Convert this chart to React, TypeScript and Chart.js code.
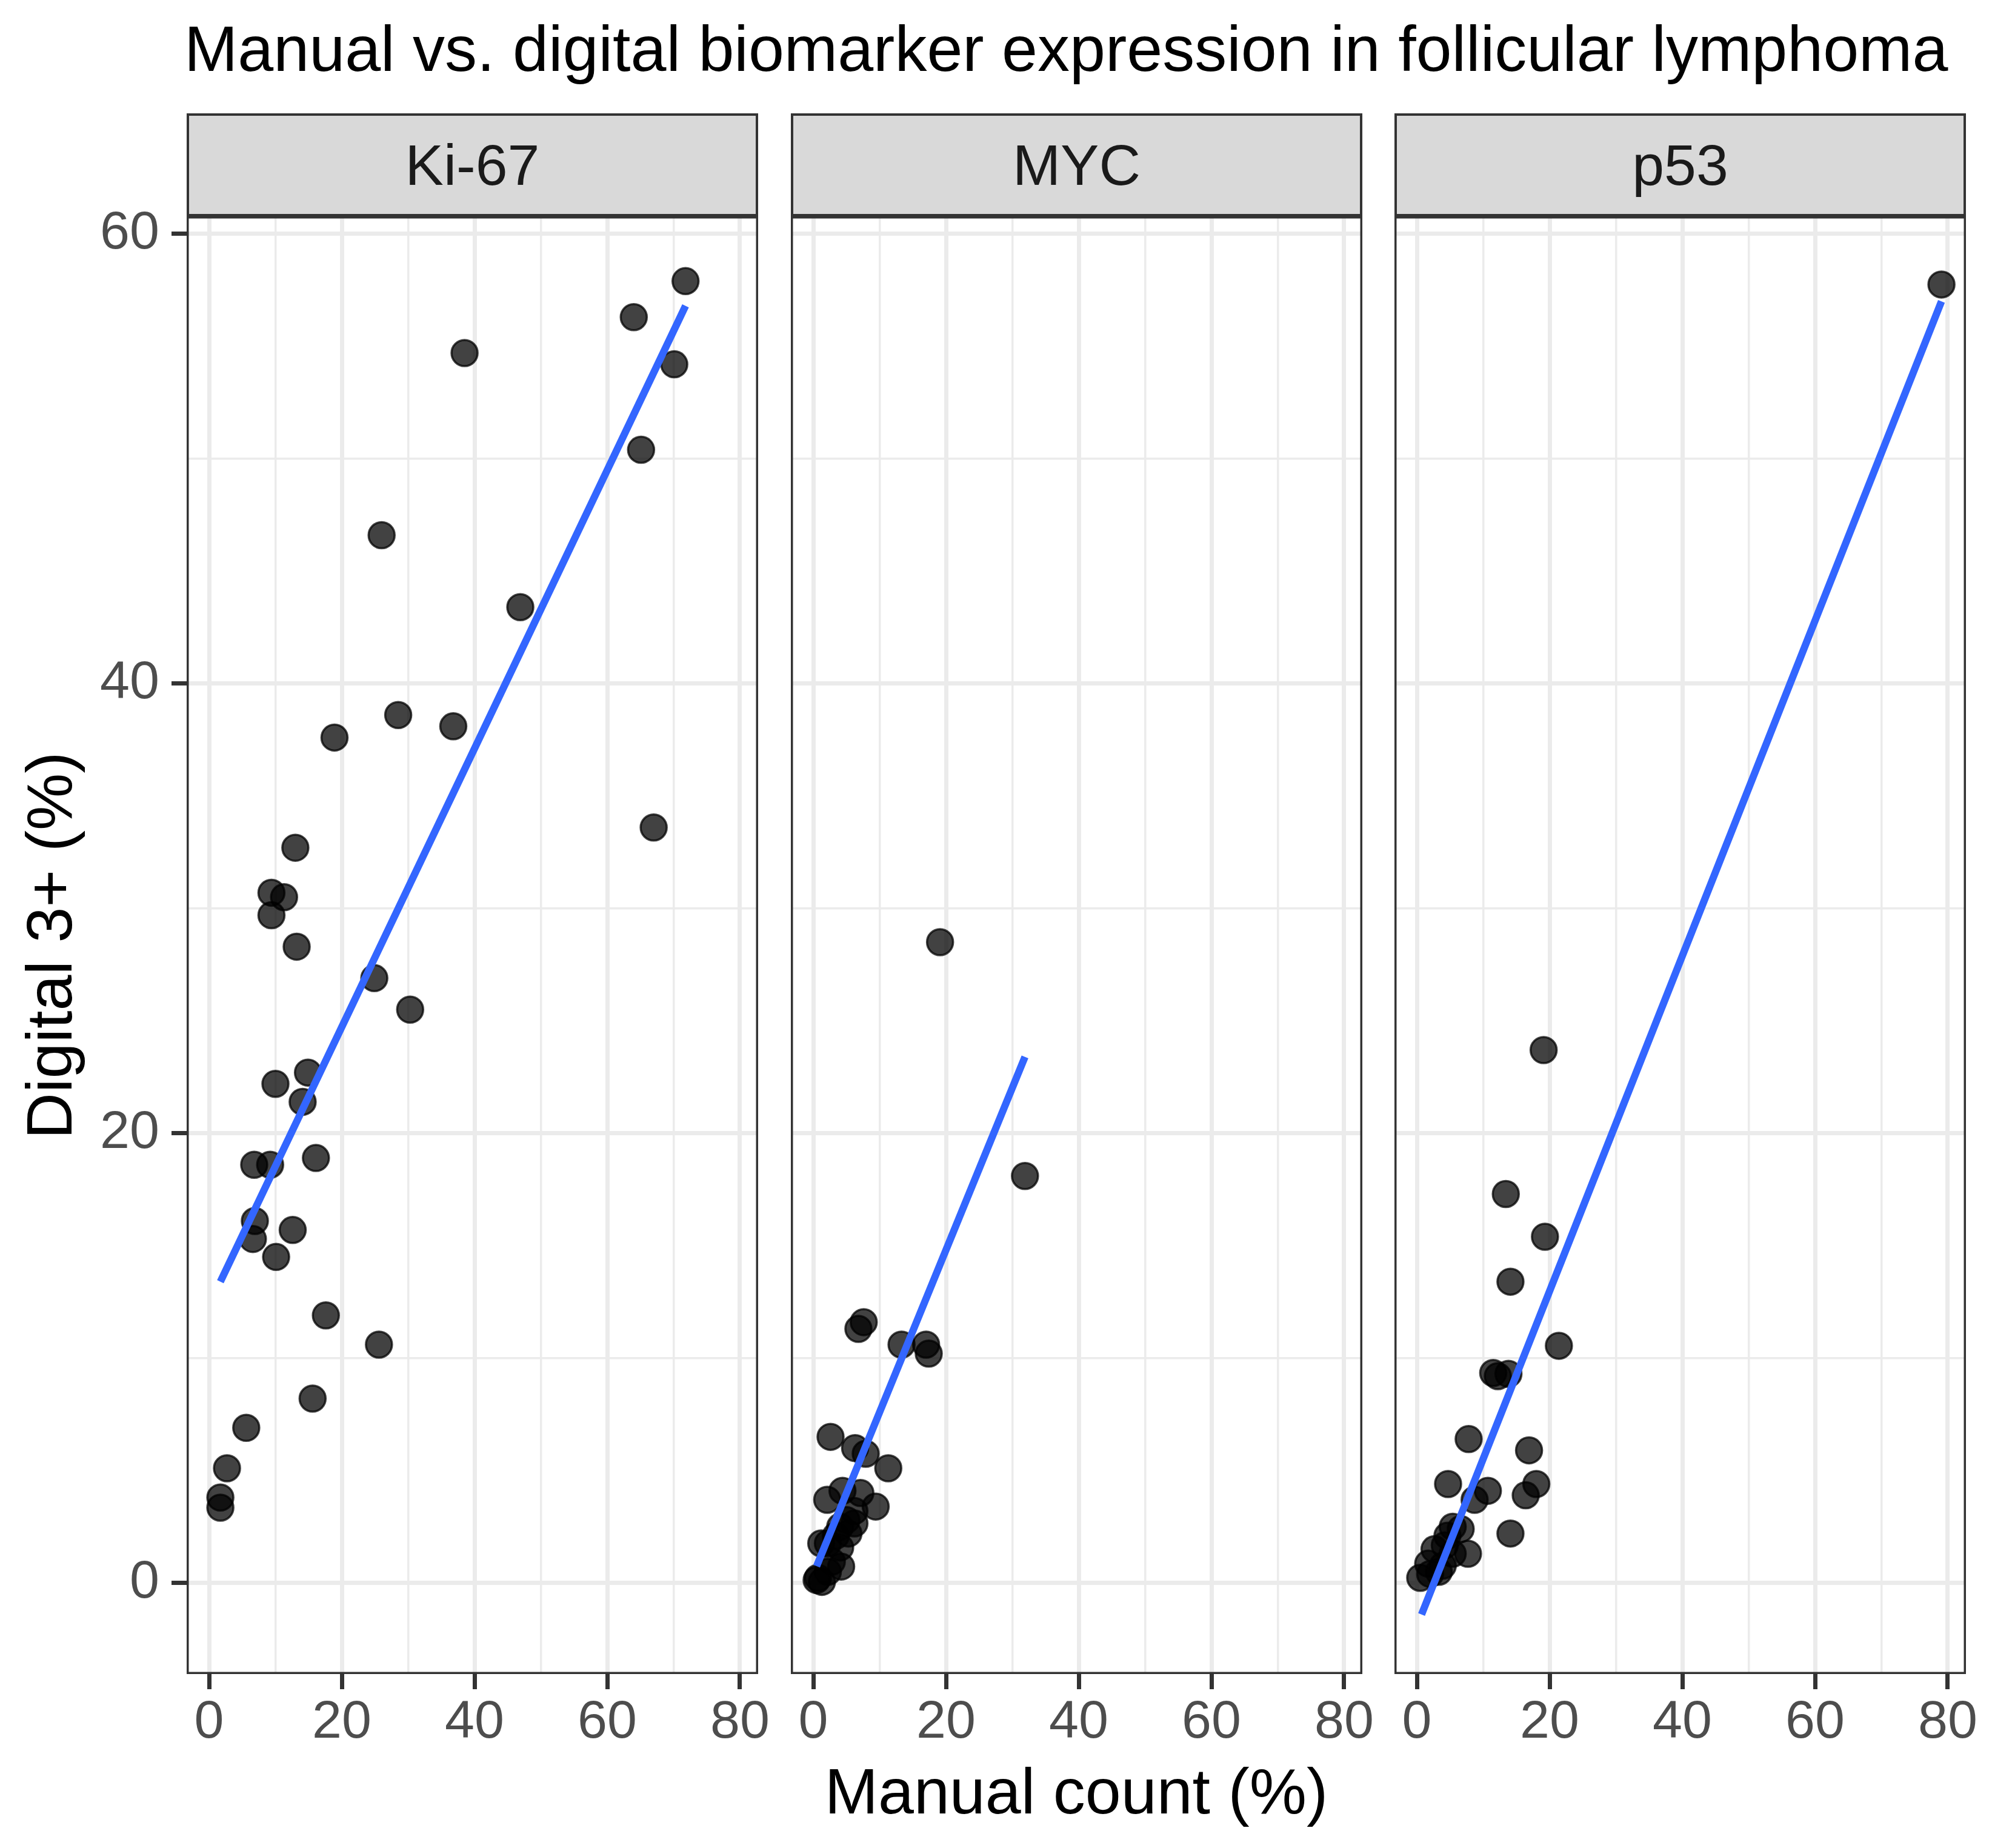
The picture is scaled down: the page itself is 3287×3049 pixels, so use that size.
import React, { useEffect, useRef } from "react";
import { Chart, registerables } from "chart.js";

Chart.register(...registerables);

// ---------------- data ----------------
const facetNames = ["Ki-67", "MYC", "p53"];

const ki67Manual = [71.8, 64.0, 38.5, 70.1, 65.1, 26.0, 46.9, 18.9, 28.5, 36.8, 67.0, 13.0, 9.4, 11.3, 9.4, 13.2, 24.9, 30.3, 14.9, 10.0, 14.1, 16.1, 6.8, 9.2, 6.9, 6.6, 12.6, 10.1, 17.6, 25.6, 15.6, 5.6, 2.7, 1.7, 1.7];
const ki67Digital = [57.9, 56.3, 54.7, 54.2, 50.4, 46.6, 43.4, 37.6, 38.6, 38.1, 33.6, 32.7, 30.7, 30.5, 29.7, 28.3, 26.9, 25.5, 22.7, 22.2, 21.4, 18.9, 18.6, 18.6, 16.1, 15.3, 15.7, 14.5, 11.9, 10.6, 8.2, 6.9, 5.1, 3.8, 3.35];

const mycManual = [19.1, 31.9, 7.6, 6.8, 13.3, 17.0, 17.4, 2.6, 6.3, 7.9, 11.3, 4.4, 2.1, 7.1, 9.4, 6.2, 5.0, 4.05, 6.2, 3.4, 5.3, 2.2, 4.05, 1.2, 4.2, 0.7, 1.3, 0.5, 2.8, 2.2];
const mycDigital = [28.5, 18.1, 11.6, 11.3, 10.6, 10.6, 10.2, 6.5, 6.0, 5.75, 5.1, 4.1, 3.7, 4.0, 3.4, 3.2, 2.8, 2.5, 2.65, 2.1, 2.2, 1.76, 1.58, 1.76, 0.73, 0.23, 0.05, 0.13, 0.95, 0.5];

const p53Manual = [79.05, 19.1, 13.4, 19.3, 14.1, 21.4, 11.5, 12.2, 13.8, 7.8, 16.9, 4.7, 10.7, 8.7, 18.0, 16.4, 14.1, 5.4, 6.6, 4.6, 7.7, 2.65, 5.4, 3.9, 1.7, 0.5, 2.0, 3.3, 4.2];
const p53Digital = [57.75, 23.7, 17.3, 15.4, 13.4, 10.55, 9.34, 9.2, 9.3, 6.4, 5.9, 4.4, 4.1, 3.7, 4.4, 3.9, 2.2, 2.5, 2.4, 2.1, 1.3, 1.5, 1.3, 0.77, 0.86, 0.23, 0.4, 0.5, 1.67];

// linear-fit (geom_smooth lm) end points
const ki67FitX = [1.7, 71.8];
const ki67FitY = [13.4, 56.8];
const mycFitX = [0.5, 31.9];
const mycFitY = [0.75, 23.4];
const p53FitX = [0.7, 79.05];
const p53FitY = [-1.4, 57.0];

const xTickValues = [0, 10, 20, 30, 40, 50, 60, 70, 80];
const xLabelValues = [0, 20, 40, 60, 80];
const yTickValues = [0, 10, 20, 30, 40, 50, 60];
const yLabelValues = [0, 20, 40, 60];
const xLimits = [-3.38, 82.74];
const yLimits = [-4.05, 60.78];

const titleText = "Manual vs. digital biomarker expression in follicular lymphoma";
const xTitleText = "Manual count (%)";
const yTitleText = "Digital 3+ (%)";

// ---------------- layout / style ----------------
const FONT = "'Liberation Sans', Arial, Helvetica, sans-serif";
const PANEL_LEFTS = [308, 1305, 2301];
const PANEL_W = 943;
const PANEL_TOP = 357;
const PANEL_H = 2405;
const STRIP_TOP = 187;
const PAD_TOP = 100;
const PAD_SIDE = 100;
const X_AXIS_H = 140;
const Y_AXIS_W = 308;

const panelBorder = {
  id: "panelBorder",
  afterDatasetsDraw(chart: any) {
    const { ctx, chartArea: a } = chart;
    ctx.save();
    ctx.strokeStyle = "#333333";
    ctx.lineWidth = 3.5;
    ctx.strokeRect(a.left + 1.75, a.top + 1.75, a.right - a.left - 3.5, a.bottom - a.top - 3.5);
    ctx.restore();
  },
};

function gridOptions(major: number[], drawTicks: boolean) {
  return {
    display: true,
    drawOnChartArea: true,
    drawTicks,
    tickLength: 25,
    color: "#EBEBEB",
    lineWidth: (c: any) => (major.includes(c.tick?.value) ? 7 : 3.5),
    tickColor: (c: any) => (major.includes(c.tick?.value) ? "#333333" : "rgba(0,0,0,0)"),
    tickWidth: 7,
  };
}

type PanelProps = {
  index: number;
  manual: number[];
  digital: number[];
  fitX: number[];
  fitY: number[];
};

function Panel({ index, manual, digital, fitX, fitY }: PanelProps) {
  const ref = useRef<HTMLCanvasElement>(null);
  const showY = index === 0;
  const yw = showY ? Y_AXIS_W : 0;
  const padLeft = showY ? 0 : PAD_SIDE;
  const cw = padLeft + yw + PANEL_W + PAD_SIDE;
  const ch = PAD_TOP + PANEL_H + X_AXIS_H;

  useEffect(() => {
    const points = manual.map((x, i) => ({ x, y: digital[i] }));
    const fit = fitX.map((x, i) => ({ x, y: fitY[i] }));
    const chart = new Chart(ref.current as HTMLCanvasElement, {
      type: "scatter",
      data: {
        datasets: [
          {
            label: facetNames[index] + " fit",
            data: fit,
            showLine: true,
            borderColor: "#3366FF",
            backgroundColor: "#3366FF",
            borderWidth: 12,
            pointRadius: 0,
            pointHoverRadius: 0,
            order: 0,
          },
          {
            label: facetNames[index],
            data: points,
            backgroundColor: "rgba(0,0,0,0.74)",
            borderColor: "rgba(0,0,0,0.74)",
            borderWidth: 3.5,
            pointRadius: 21.5,
            pointHoverRadius: 21.5,
            order: 1,
          },
        ],
      },
      options: {
        responsive: false,
        animation: false,
        devicePixelRatio: 1,
        events: [],
        layout: { padding: { top: PAD_TOP, right: PAD_SIDE, bottom: 0, left: padLeft } },
        plugins: { legend: { display: false }, tooltip: { enabled: false }, title: { display: false } },
        scales: {
          x: {
            type: "linear",
            position: "bottom",
            min: xLimits[0],
            max: xLimits[1],
            afterBuildTicks: (s: any) => {
              s.ticks = xTickValues.map((v) => ({ value: v }));
            },
            afterFit: (s: any) => {
              s.height = X_AXIS_H;
            },
            grid: gridOptions(xLabelValues, true) as any,
            border: { display: false },
            ticks: {
              autoSkip: false,
              maxRotation: 0,
              minRotation: 0,
              padding: 3,
              color: "#4D4D4D",
              font: { family: FONT, size: 88 },
              callback: (v: any) => (xLabelValues.includes(Number(v)) ? String(v) : ""),
            },
          },
          y: {
            type: "linear",
            position: "left",
            min: yLimits[0],
            max: yLimits[1],
            afterBuildTicks: (s: any) => {
              s.ticks = yTickValues.map((v) => ({ value: v }));
            },
            afterFit: (s: any) => {
              s.width = yw;
            },
            grid: gridOptions(yLabelValues, showY) as any,
            border: { display: false },
            ticks: {
              display: showY,
              autoSkip: false,
              padding: 20,
              color: "#4D4D4D",
              font: { family: FONT, size: 88 },
              callback: (v: any) => (yLabelValues.includes(Number(v)) ? String(v) : ""),
            },
          },
        },
      },
      plugins: [panelBorder],
    } as any);
    return () => chart.destroy();
  }, []);

  return (
    <canvas
      ref={ref}
      width={cw}
      height={ch}
      style={{
        position: "absolute",
        left: PANEL_LEFTS[index] - yw - padLeft,
        top: PANEL_TOP - PAD_TOP,
        width: cw,
        height: ch,
      }}
    />
  );
}

function Strip({ index }: { index: number }) {
  return (
    <div
      style={{
        position: "absolute",
        left: PANEL_LEFTS[index],
        top: STRIP_TOP,
        width: PANEL_W,
        height: PANEL_TOP - STRIP_TOP,
        boxSizing: "border-box",
        border: "4px solid #333333",
        background: "#D9D9D9",
        display: "flex",
        alignItems: "center",
        justifyContent: "center",
        fontFamily: FONT,
        fontSize: 95,
        lineHeight: 1,
        color: "#1A1A1A",
        whiteSpace: "nowrap",
      }}
    >
      <span style={{ lineHeight: 1 }}>{facetNames[index]}</span>
    </div>
  );
}

export default function App() {
  const panelData = [
    { manual: ki67Manual, digital: ki67Digital, fitX: ki67FitX, fitY: ki67FitY },
    { manual: mycManual, digital: mycDigital, fitX: mycFitX, fitY: mycFitY },
    { manual: p53Manual, digital: p53Digital, fitX: p53FitX, fitY: p53FitY },
  ];
  const titleSize = 106;
  const baselineOffset = 0.8465 * titleSize;
  const panelsLeft = PANEL_LEFTS[0];
  const panelsRight = PANEL_LEFTS[2] + PANEL_W;
  return (
    <div
      style={{
        position: "absolute",
        left: 0,
        top: 0,
        width: 3287,
        height: 3049,
        background: "#FFFFFF",
        overflow: "hidden",
        fontFamily: FONT,
      }}
    >
      <div
        style={{
          position: "absolute",
          left: 304,
          top: 117 - baselineOffset,
          fontSize: titleSize,
          lineHeight: 1,
          color: "#000000",
          whiteSpace: "nowrap",
        }}
      >
        {titleText}
      </div>
      {panelData.map((d, i) => (
        <Strip key={"s" + i} index={i} />
      ))}
      {panelData.map((d, i) => (
        <Panel key={"p" + i} index={i} manual={d.manual} digital={d.digital} fitX={d.fitX} fitY={d.fitY} />
      ))}
      <div
        style={{
          position: "absolute",
          left: panelsLeft,
          width: panelsRight - panelsLeft,
          top: 2992 - baselineOffset,
          fontSize: titleSize,
          lineHeight: 1,
          textAlign: "center",
          color: "#000000",
          whiteSpace: "nowrap",
        }}
      >
        {xTitleText}
      </div>
      <div
        style={{
          position: "absolute",
          left: 81.3 - 500,
          top: 1560 - titleSize / 2,
          width: 1000,
          height: titleSize,
          fontSize: titleSize,
          lineHeight: 1,
          textAlign: "center",
          color: "#000000",
          whiteSpace: "nowrap",
          transform: "rotate(-90deg)",
          transformOrigin: "50% 50%",
        }}
      >
        {yTitleText}
      </div>
    </div>
  );
}
